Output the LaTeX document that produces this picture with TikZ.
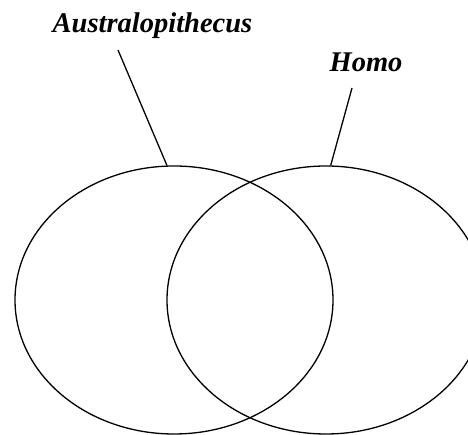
\documentclass[tikz,border=0pt]{standalone}
\usepackage{fontspec}
\setmainfont{Liberation Serif}
\usetikzlibrary{shapes.geometric}
\begin{document}
\begin{tikzpicture}[x=1pt,y=1pt,
  set/.style={draw,ellipse,line width=1.3pt,minimum width=318pt,minimum height=268pt,inner sep=0pt},
  lbl/.style={font=\fontsize{28.5}{32}\selectfont\bfseries\itshape,inner sep=0pt,anchor=base},
  lead/.style={line width=1.3pt}]
\useasboundingbox (0,0) rectangle (468,435);
\clip (0,0) rectangle (468,435);
\node[set] (L) at (174,135) {};
\node[set] (R) at (326,135) {};
\node[lbl] (aus) at (152.5,402) {Australopithecus};
\node[lbl] (homo) at (366,363) {Homo};
\coordinate (a0) at (118,385);
\coordinate (h0) at (352,347);
\draw[lead] (a0) -- (L.93.4);
\draw[lead] (h0) -- (R.88.3);
\end{tikzpicture}
\end{document}
